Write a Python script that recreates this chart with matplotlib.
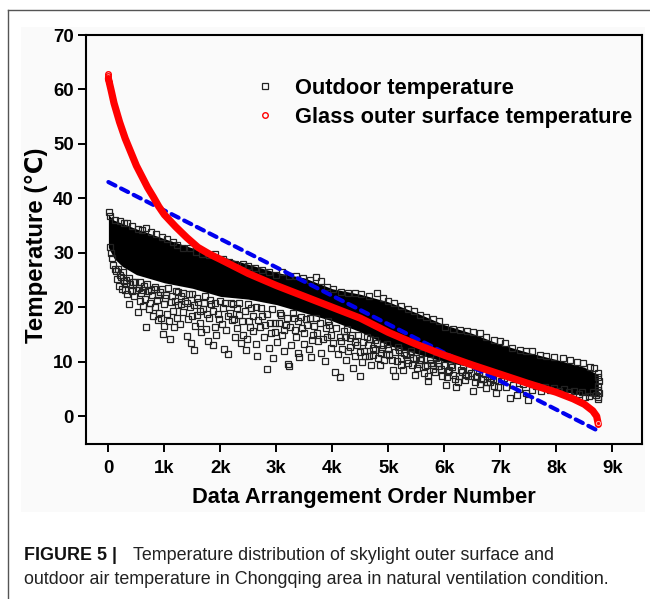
import matplotlib
matplotlib.use('Agg')
import matplotlib.pyplot as plt
from matplotlib.lines import Line2D
from matplotlib.patches import Rectangle

plt.rcParams['font.family'] = ['Liberation Sans', 'DejaVu Sans']

# solid black part of the outdoor cloud (upper / lower edge)
band_order = [0, 100, 250, 500, 1000, 1500, 2000, 2500, 3000, 3500, 4000, 4500, 5000, 5500, 6000, 6500, 7000, 7500, 8000, 8500, 8750]
band_upper = [37, 36, 35.4, 34.4, 32.6, 30.9, 29.4, 27.9, 26.4, 25.4, 23.4, 22.4, 21, 19, 16.8, 15.2, 13.2, 11.7, 10.4, 9, 7.6]
band_lower = [31, 29, 27.5, 26, 24.5, 23.5, 22, 21.5, 20.5, 19, 17.5, 15.5, 13, 11.5, 10, 9, 7.5, 6.5, 4.8, 3.8, 3.6]

# single squares on the top edge of the cloud
outdoor_upper = [(10, 37.5), (30, 36.8), (120, 36), (200, 35.8), (280, 35.5), (340, 35.4), (420, 35), (520, 34.4), (600, 34.2), (680, 34.5),
                 (760, 33.8), (850, 33.4), (960, 33), (1050, 32.6), (1150, 32), (1230, 31.4), (1330, 30.9), (1460, 30.8), (1560, 30.2), (1680, 29.8),
                 (1800, 29.6), (1900, 29.8), (2050, 28.8), (2150, 28.4), (2270, 28), (2400, 27.9), (2500, 27.5), (2620, 27.2), (2750, 26.8), (2860, 26.4),
                 (2990, 26), (3100, 26.4), (3230, 25.8), (3350, 25.7), (3480, 25.4), (3600, 25), (3700, 25.6), (3800, 24.8), (3900, 23.8), (4020, 23.4),
                 (4150, 22.9), (4280, 22.6), (4400, 22.6), (4520, 22.4), (4650, 22), (4800, 22.7), (4900, 21.8), (5000, 21.2), (5100, 20.8), (5230, 20.2),
                 (5350, 19.6), (5450, 19.3), (5560, 18.6), (5680, 18.2), (5800, 17.9), (5900, 17.5), (6020, 16.4), (6150, 16), (6280, 15.9), (6400, 15.7),
                 (6520, 15.4), (6630, 15.2), (6750, 14.6), (6880, 14), (7000, 13.8), (7080, 13.4), (7200, 12.6), (7350, 12.1), (7460, 12), (7560, 11.9),
                 (7700, 11.2), (7820, 11), (7950, 10.8), (8120, 10.6), (8250, 10.3), (8370, 10), (8480, 9.7), (8600, 9), (8680, 8.8), (8750, 7.9),
                 (8750, 7.2), (8755, 6.4), (8750, 5.6), (8750, 4.8), (8755, 4.2), (8750, 3.6), (8745, 3.1), (8700, 3.9), (8650, 4.4), (8510, 3.5)]

# sparse squares under the solid band, read by eye
outdoor_lower = [(20, 31), (40, 30), (60, 29), (90, 27.8), (130, 26.6), (148, 25.2), (170, 27), (190, 24), (220, 25.6), (240, 23.4),
                 (270, 24.8), (300, 23.2), (320, 25), (340, 22.4), (375, 20.6), (390, 24.2), (420, 23), (450, 22), (480, 24.6), (520, 19.2),
                 (540, 23.6), (560, 21.2), (590, 22.6), (620, 20.2), (640, 24), (660, 21.6), (680, 16.3), (700, 23), (720, 19.6), (745, 20.8),
                 (770, 22.2), (790, 18.4), (810, 23.4), (830, 20), (860, 21.4), (880, 17.6), (900, 19), (920, 22.8), (940, 18), (970, 15.1),
                 (985, 20.6), (1000, 16.6), (1030, 22.2), (1050, 18.8), (1080, 17.4), (1100, 14.2), (1120, 21), (1150, 19.4), (1170, 16.4), (1200, 23),
                 (1220, 18), (1250, 20.4), (1270, 17), (1300, 22), (1330, 19.2), (1360, 21.2), (1400, 14.8), (1420, 17.8), (1450, 20), (1480, 13.4),
                 (1500, 22.4), (1530, 12.1), (1550, 16.6), (1580, 18.6), (1600, 21), (1630, 17.2), (1660, 15.4), (1690, 19.6), (1720, 22), (1750, 16),
                 (1770, 13.8), (1800, 18), (1830, 20.6), (1870, 13.1), (1900, 16.4), (1930, 15), (1960, 18.8), (1990, 21.2), (2020, 17), (2070, 12.4),
                 (2100, 15.8), (2140, 11.4), (2170, 19), (2200, 17.6), (2230, 20.6), (2260, 14.6), (2300, 16.2), (2330, 18.6), (2370, 13.4), (2400, 15),
                 (2450, 12.2), (2480, 14.2), (2510, 17.4), (2550, 19.8), (2590, 15.6), (2630, 13.2), (2660, 11), (2700, 16.4), (2740, 18.4), (2780, 14.6),
                 (2830, 8.7), (2860, 12.6), (2900, 15.2), (2940, 10.6), (2980, 17.2), (3020, 13.6), (3060, 19), (3100, 15), (3130, 12), (3170, 16.8),
                 (3200, 9.6), (3230, 9.2), (3270, 13), (3310, 18), (3350, 14.6), (3380, 11.6), (3410, 10.8), (3450, 16.2), (3490, 13.2), (3530, 17.8),
                 (3580, 12.4), (3620, 10.9), (3660, 15), (3700, 18), (3740, 13.8), (3790, 11.6), (3860, 10.2), (3900, 14.6), (3940, 16.8), (3980, 12.6),
                 (4050, 8.2), (4100, 11.4), (4140, 7.2), (4160, 13.8), (4200, 15.6), (4240, 10.4), (4280, 12), (4320, 14.4), (4360, 8.9), (4400, 11),
                 (4440, 13), (4500, 7.4), (4530, 10), (4570, 12), (4610, 14.6), (4650, 11), (4690, 9.4), (4730, 12.6), (4770, 14), (4810, 10.6),
                 (4850, 9.4), (4890, 12.4), (4930, 10.4), (4970, 13.2), (5010, 11.2), (5080, 8.5), (5110, 7.4), (5150, 10.2), (5190, 12.2), (5230, 9.4),
                 (5270, 8.4), (5310, 11.2), (5350, 9.8), (5400, 12), (5440, 10.6), (5480, 7.6), (5520, 8.8), (5560, 10.4), (5600, 11.6), (5650, 9.2),
                 (5700, 6.5), (5710, 7.4), (5760, 9.8), (5800, 8.6), (5850, 10.6), (5900, 9.2), (5960, 7.4), (6030, 5.7), (6060, 8.2), (6110, 9.4),
                 (6160, 7.6), (6200, 5.4), (6240, 6.2), (6290, 8.4), (6340, 9.4), (6390, 7.6), (6440, 8.6), (6510, 4.6), (6560, 7.2), (6610, 8.2),
                 (6660, 6.8), (6720, 7.8), (6770, 6.2), (6830, 7), (6880, 5.6), (6920, 4.2), (6950, 5.4), (7010, 6.4), (7060, 7), (7110, 5.4),
                 (7170, 3.3), (7230, 5.8), (7290, 3.9), (7340, 5), (7400, 6), (7450, 4.2), (7500, 3), (7560, 4.8), (7640, 5.6), (7720, 4.6),
                 (7800, 5.4), (7880, 4.8), (7960, 5.2), (8050, 4.6), (8140, 5), (8230, 4.4), (8320, 4.6), (8400, 4), (8460, 4.4), (8590, 3.8)]

# squares just below the solid band, where the cloud thins out
outdoor_mid = [(110, 27), (200, 26), (260, 26.4), (310, 24.4), (360, 25.4), (440, 24.6), (500, 23.2), (570, 24.6), (610, 23.2), (690, 24.2),
               (760, 23.2), (840, 23.8), (890, 22.2), (950, 23.4), (1010, 21.8), (1060, 23.6), (1130, 22), (1190, 21.2), (1240, 22.8), (1290, 20.6),
               (1340, 22.6), (1400, 20.8), (1440, 22.4), (1490, 18.4), (1520, 20.4), (1590, 21.8), (1640, 19.4), (1700, 20.8), (1760, 18.8), (1810, 21.4),
               (1860, 19.4), (1910, 20.8), (1970, 17.8), (2040, 19.8), (2090, 20.8), (2130, 18.4), (2190, 20.8), (2240, 17.8), (2290, 19.8), (2340, 20.8),
               (2390, 17.4), (2440, 19.4), (2490, 20.6), (2530, 16.4), (2580, 18.4), (2640, 20), (2680, 17.6), (2730, 19.8), (2790, 16.8), (2840, 18.8),
               (2880, 17.2), (2930, 19.6), (2970, 15.4), (3040, 17.2), (3090, 18.6), (3140, 15.8), (3190, 18), (3240, 16.4), (3290, 19), (3340, 15.8),
               (3390, 17.4), (3440, 18.2), (3500, 15.2), (3550, 16.8), (3600, 18), (3640, 14), (3680, 16.6), (3730, 15.2), (3780, 17.2), (3830, 14.2),
               (3880, 16.2), (3930, 17.4), (3970, 15), (4020, 13.4), (4070, 16.2), (4130, 14.6), (4180, 12.4), (4230, 14.6), (4270, 16), (4310, 12.8),
               (4350, 15), (4400, 13.6), (4450, 15), (4490, 11.8), (4540, 13.6), (4590, 11), (4630, 13), (4680, 14.2), (4720, 11.2), (4760, 12.2),
               (4800, 13.4), (4860, 11.6), (4910, 13), (4950, 11.4), (5000, 12.6), (5060, 10.4), (5120, 11.8), (5170, 12.8), (5220, 10.6), (5280, 11.6),
               (5340, 10.4), (5380, 11.4), (5430, 9.4), (5490, 10.6), (5540, 9.6), (5590, 10.4), (5640, 8), (5690, 9.4), (5740, 10.4), (5790, 9.4),
               (5840, 8.2), (5890, 9.8), (5940, 8.6), (5990, 9.4), (6040, 7.2), (6090, 8.4), (6140, 9), (6190, 6.8), (6260, 7.4), (6320, 8.2),
               (6370, 6.6), (6430, 7.4), (6480, 8), (6540, 6.2), (6590, 7.4), (6640, 6), (6690, 6.8), (6750, 5.2), (6810, 6.2), (6860, 6.8)]

# glass surface curve
glass_order = [0, 50, 100, 200, 300, 400, 500, 600, 700, 800, 900, 1000, 1200, 1400, 1600, 1800, 2000, 2500, 3000, 3500, 4000, 4500, 5000, 5500, 6000, 6500, 7000, 7500, 8000, 8300, 8500, 8650, 8720, 8750]
glass_temp = [62, 59.8, 57.5, 54, 51, 48.5, 46, 44, 42, 40.3, 38.5, 37, 34.8, 32.8, 31, 29.8, 28.8, 26.2, 24, 22, 20, 18, 15.4, 13.2, 11.2, 9.4, 7.7, 6, 4.4, 3.2, 2.2, 1, 0, -1.5]
glass_top_order = [0, 0, 0, 5]
glass_top_temp = [62.9, 62.5, 62, 61.4]

# dashed linear fit
fit_order = [0, 8750]
fit_temp = [43, -2.7]

x_ticks = [0, 1000, 2000, 3000, 4000, 5000, 6000, 7000, 8000, 9000]
x_labels = ['0', '1k', '2k', '3k', '4k', '5k', '6k', '7k', '8k', '9k']
y_ticks = [0, 10, 20, 30, 40, 50, 60, 70]

W, H = 650, 599
fig = plt.figure(figsize=(W / 100, H / 100), dpi=100)
fig.patch.set_facecolor('white')

# grey picture panel and the frame of the figure box
fig.add_artist(Rectangle((21 / W, 1 - 512 / H), 624 / W, 485 / H, transform=fig.transFigure, color='#fafafa', lw=0, zorder=-2))
fig.add_artist(Line2D([8 / W, 8 / W], [0, 1 - 10 / H], transform=fig.transFigure, color='#555555', lw=1, zorder=-2))
fig.add_artist(Line2D([8 / W, 1], [1 - 10 / H, 1 - 10 / H], transform=fig.transFigure, color='#555555', lw=1, zorder=-2))

ax = fig.add_axes([86 / W, 1 - 444 / H, 556 / W, 409 / H])
ax.set_facecolor('#fafafa')

ax.fill_between(band_order, band_lower, band_upper, color='black', lw=0, zorder=2)
for pts in (outdoor_upper, outdoor_mid, outdoor_lower):
    ax.plot([p[0] for p in pts], [p[1] for p in pts], ls='none', marker='s', ms=3.7, mfc='none', mec='#222222', mew=0.9, zorder=3)

ax.plot(fit_order, fit_temp, color='#0000ee', lw=3, ls=(0, (1.9, 1.5)), dash_capstyle='round', zorder=4)
ax.plot(glass_order, glass_temp, color='#ff0000', lw=5.2, solid_capstyle='round', solid_joinstyle='round', zorder=5)
ax.plot(glass_top_order, glass_top_temp, ls='none', marker='o', ms=4, mfc='none', mec='#ff0000', mew=1, zorder=5)
ax.plot([8750], [-1.3], ls='none', marker='o', ms=3, mfc='none', mec='#ffb0b0', mew=0.7, zorder=6)

ax.set_xlim(-400, 9530)
ax.set_ylim(-5.1, 70)
ax.set_xticks(x_ticks)
ax.set_xticklabels(x_labels)
ax.set_yticks(y_ticks)
ax.tick_params(axis='both', length=5.5, width=1.4, labelsize=13.4, pad=3.2)
for lab in ax.get_xticklabels() + ax.get_yticklabels():
    lab.set_fontweight('bold')
ax.tick_params(axis='x', pad=6)
for s in ax.spines.values():
    s.set_linewidth(1.5)

fig.text(364 / W, 1 - 498 / H, 'Data Arrangement Order Number', fontsize=15.75, fontweight='bold', ha='center', va='center')
fig.text(36 / W, 1 - 245 / H, 'Temperature (℃)', fontsize=17.3, fontweight='bold', rotation=90, ha='center', va='center')

# legend
handles = [Line2D([], [], ls='none', marker='s', ms=3.7, mfc='none', mec='#222222', mew=0.9),
           Line2D([], [], ls='none', marker='o', ms=4, mfc='none', mec='#ff0000', mew=1)]
ax.legend(handles, ['Outdoor temperature', 'Glass outer surface temperature'], loc='upper left',
          bbox_to_anchor=(0.283, 0.895), frameon=False, prop={'weight': 'bold', 'size': 15.75},
          handletextpad=0.38, labelspacing=0.36, borderpad=0, borderaxespad=0)

# caption
fig.text(24 / W, 1 - 556 / H, 'FIGURE 5 |', fontsize=12.9, fontweight='bold', va='center', color='#111111')
fig.text(133 / W, 1 - 556 / H, 'Temperature distribution of skylight outer surface and', fontsize=12.9, va='center', color='#222222')
fig.text(24 / W, 1 - 579 / H, 'outdoor air temperature in Chongqing area in natural ventilation condition.', fontsize=12.9, va='center', color='#222222')

fig.savefig('out.png', dpi=100)
